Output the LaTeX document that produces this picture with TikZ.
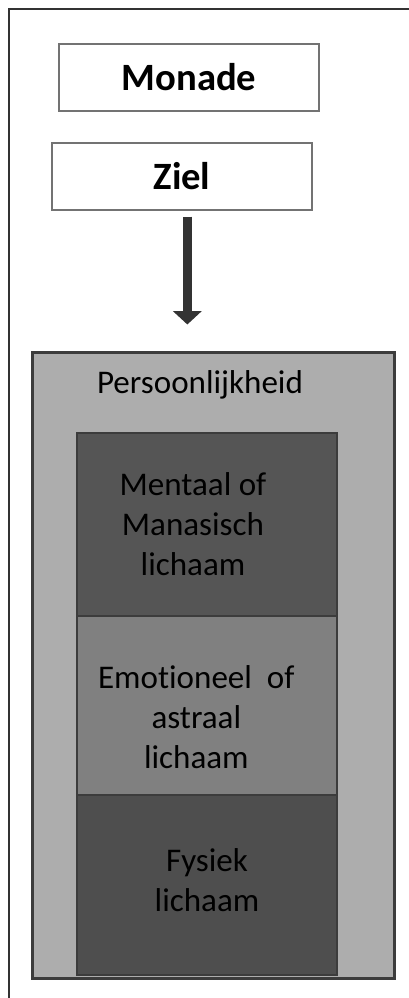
\documentclass[tikz,border=0pt]{standalone}
\usepackage{fontspec}
\setmainfont{Carlito}[Ligatures=NoCommon]
\usetikzlibrary{arrows.meta,positioning}
\definecolor{kader}{HTML}{333333}
\definecolor{doosrand}{HTML}{737373}
\definecolor{laagrand}{HTML}{3C3C3C}
\definecolor{licht}{HTML}{ADADAD}
\definecolor{mentaal}{HTML}{555555}
\definecolor{emotioneel}{HTML}{808080}
\definecolor{fysiek}{HTML}{4E4E4E}
\definecolor{pijlkleur}{HTML}{333333}

\begin{document}
\begin{tikzpicture}[x=0.75pt,y=-0.75pt,
		doos/.style={draw=doosrand,line width=0.9pt,fill=white,minimum width=195pt,minimum height=50.25pt,font=\fontsize{29}{34}\selectfont\bfseries},
		laag/.style={draw=laagrand,line width=1.6pt,minimum width=195pt,outer sep=0pt,inner sep=0pt},
		tekst/.style={align=center,font=\fontsize{24.8}{30}\selectfont},
		pijl/.style={draw=pijlkleur,line width=6.75pt,-{Triangle[width=21pt,length=10pt]},shorten <=4.5pt,shorten >=19.5pt}]
		\useasboundingbox (0,0) rectangle (409,998);
		\draw[kader,line width=1.6pt] (9,998) -- (9,9) -- (409,9);
		\node[doos] (monade) at (189,77.5) {Monade};
		\node[doos] (ziel) at (182,176.5) {Ziel};
		\node[draw=laagrand,line width=2.25pt,fill=licht,minimum width=271.5pt,minimum height=469.5pt] (persoon) at (213,665) {};
		\node[tekst] (persoontekst) at (200,385) {Persoonlijkheid};
		\node[laag,fill=mentaal,minimum height=137.25pt,
		label={[tekst,xshift=-10.5pt]center:{Mentaal of\\Manasisch\\lichaam}}] (mentaal) at (207,524.5) {};
		\node[laag,fill=emotioneel,minimum height=134.25pt,below=0pt of mentaal,
		label={[tekst,xshift=-8pt,yshift=-9pt]center:{Emotioneel\ \ of\\astraal\\lichaam}}] (emotioneel) {};
		\node[laag,fill=fysiek,minimum height=135pt,below=0pt of emotioneel,
		label={[tekst,yshift=3.75pt]center:{Fysiek\\lichaam}}] (fysiek) {};
		\path[pijl] ([xshift=4pt]ziel.south) -- ([xshift=4pt]ziel.south |- persoon.north);
	\end{tikzpicture}
\end{document}
